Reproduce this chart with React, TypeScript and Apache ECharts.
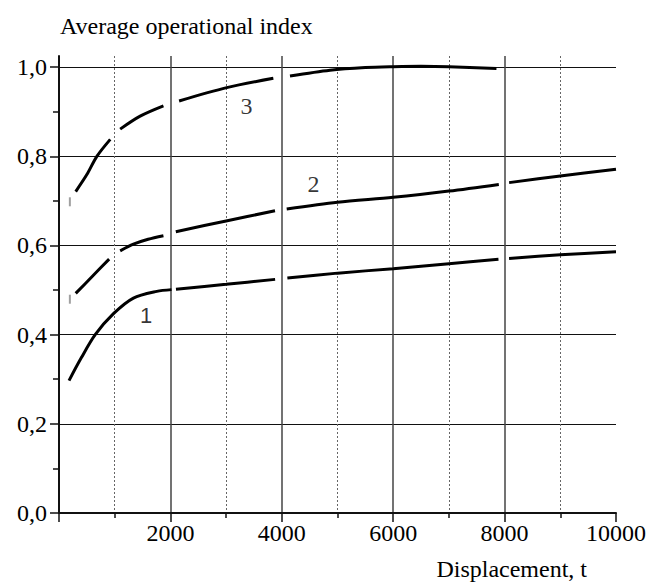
import React, { useEffect, useRef } from "react";
import * as echarts from "echarts";

// Curves: [displacement, index]; a null index marks a gap in the drawn line
const curve1: [number, number | null][] = [
  [180, 0.297], [400, 0.348], [650, 0.4], [978, 0.447], [1336, 0.482], [1756, 0.497], [2020, 0.501],
  [2060, null],
  [2100, 0.502], [3000, 0.513], [3880, 0.524],
  [3990, null],
  [4100, 0.527], [5000, 0.538], [6000, 0.548], [7000, 0.559], [7890, 0.569],
  [7990, null],
  [8080, 0.571], [9000, 0.579], [10000, 0.586],
];

const curve2: [number, number | null][] = [
  [300, 0.4925], [600, 0.531], [900, 0.5695],
  [1000, null],
  [1098, 0.588], [1336, 0.603], [1600, 0.614], [1875, 0.622],
  [1990, null],
  [2097, 0.631], [3000, 0.655], [3878, 0.678],
  [3980, null],
  [4088, 0.682], [5000, 0.697], [6000, 0.708], [7000, 0.722], [7896, 0.737],
  [7990, null],
  [8081, 0.741], [9000, 0.756], [10000, 0.771],
];

const curve3: [number, number | null][] = [
  [300, 0.721], [500, 0.759], [680, 0.8], [920, 0.838],
  [1010, null],
  [1098, 0.861], [1457, 0.89], [1875, 0.913],
  [2010, null],
  [2156, 0.924], [3011, 0.954], [3848, 0.975],
  [4000, null],
  [4147, 0.98], [4865, 0.993], [5500, 0.999], [6000, 1.001], [6500, 1.002], [7000, 1.001], [7854, 0.997],
];

// small grey start marks
const startMarks: [number, number][] = [
  [195, 0.698],
  [195, 0.4795],
];

// curve number labels
const labelNames = ["1", "2", "3"];
const labelX = [1564, 4569, 3367];
const labelY = [0.443, 0.738, 0.913];

const yMajorTicks = [0, 0.2, 0.4, 0.6, 0.8, 1.0];
const yMinorTicks = [0.1, 0.3, 0.5, 0.7, 0.9];

const titleText = "Average operational index";
const xTitleText = "Displacement, t";

const SERIF = "Liberation Serif";
const SANS = "Liberation Sans";

function toData(c: [number, number | null][]) {
  return c.map(([x, y]) => [x, y === null ? "-" : y]);
}

export default function App() {
  const ref = useRef<HTMLDivElement>(null);
  useEffect(() => {
    if (!ref.current) return;
    const chart = echarts.init(ref.current, undefined, { renderer: "svg" });
    const lineSeries = (data: [number, number | null][]) => ({
      type: "line",
      data: toData(data),
      showSymbol: false,
      symbol: "none",
      smooth: 0.3,
      connectNulls: false,
      lineStyle: { color: "#000", width: 3 },
      xAxisIndex: 0,
      yAxisIndex: 0,
      silent: true,
      z: 5,
    });
    const labelFont = { fontFamily: SERIF, fontSize: 24, color: "#000" };
    const option: any = {
      animation: false,
      backgroundColor: "#fff",
      textStyle: { fontFamily: SERIF, fontSize: 24 },
      grid: { left: 59, top: 56, right: 32, bottom: 72, outerBoundsMode: "none", containLabel: false },
      xAxis: {
        type: "value",
        min: 0,
        max: 10000,
        interval: 2000,
        axisLine: { show: true, lineStyle: { color: "#111", width: 2 } },
        axisTick: { show: true, inside: false, length: 9, lineStyle: { color: "#111", width: 1.5 } },
        minorTick: { show: true, splitNumber: 2, length: 5, lineStyle: { color: "#111", width: 1.5 } },
        axisLabel: {
          showMinLabel: false,
          margin: 8,
          ...labelFont,
          formatter: (v: number) => String(v),
        },
        splitLine: { show: true, showMinLine: false, showMaxLine: false, lineStyle: { color: "#444", width: 1.5 } },
        minorSplitLine: { show: true, lineStyle: { color: "#666", width: 1, type: [2, 2] } },
      },
      yAxis: [
        {
          type: "value",
          min: 0,
          max: 1.025,
          interval: 0.2,
          axisLine: { show: true, onZero: false, lineStyle: { color: "#111", width: 2 } },
          axisTick: { show: true, inside: false, length: 9, customValues: yMajorTicks, lineStyle: { color: "#111", width: 1.5 } },
          axisLabel: {
            customValues: yMajorTicks,
            margin: 12,
            ...labelFont,
            formatter: (v: number) => v.toFixed(1).replace(".", ","),
          },
          splitLine: { show: true, showMinLine: false, lineStyle: { color: "#111", width: 1 } },
        },
        {
          type: "value",
          min: 0,
          max: 1.025,
          position: "left",
          offset: 0,
          axisLine: { show: false },
          axisTick: { show: true, inside: false, length: 6, customValues: yMinorTicks, lineStyle: { color: "#111", width: 1.5 } },
          axisLabel: { show: false },
          splitLine: { show: false },
        },
      ],
      series: [
        lineSeries(curve1),
        lineSeries(curve2),
        lineSeries(curve3),
        {
          type: "scatter",
          data: startMarks,
          symbol: "rect",
          symbolSize: [2, 9],
          itemStyle: { color: "#888" },
          silent: true,
          z: 4,
        },
        {
          type: "scatter",
          data: labelNames.map((n, i) => ({
            name: n,
            value: [labelX[i], labelY[i]],
            label: {
              fontFamily: n === "1" ? SANS : SERIF,
              fontSize: n === "1" ? 22 : 24,
            },
          })),
          symbolSize: 0,
          silent: true,
          label: {
            show: true,
            position: "inside",
            formatter: (p: any) => p.name,
            color: "#000",
          },
          z: 6,
        },
      ],
      graphic: [
        {
          type: "text",
          left: 60,
          top: 14,
          style: { text: titleText, fontFamily: SERIF, fontSize: 24, fill: "#000" },
        },
        {
          type: "text",
          right: 61,
          top: 557,
          style: { text: xTitleText, fontFamily: SERIF, fontSize: 24, fill: "#000" },
        },
      ],
    };
    chart.setOption(option);
    return () => chart.dispose();
  }, []);
  return (
    <div
      ref={ref}
      style={{ position: "fixed", left: 0, top: 0, width: 648, height: 585, background: "#fff" }}
    />
  );
}
